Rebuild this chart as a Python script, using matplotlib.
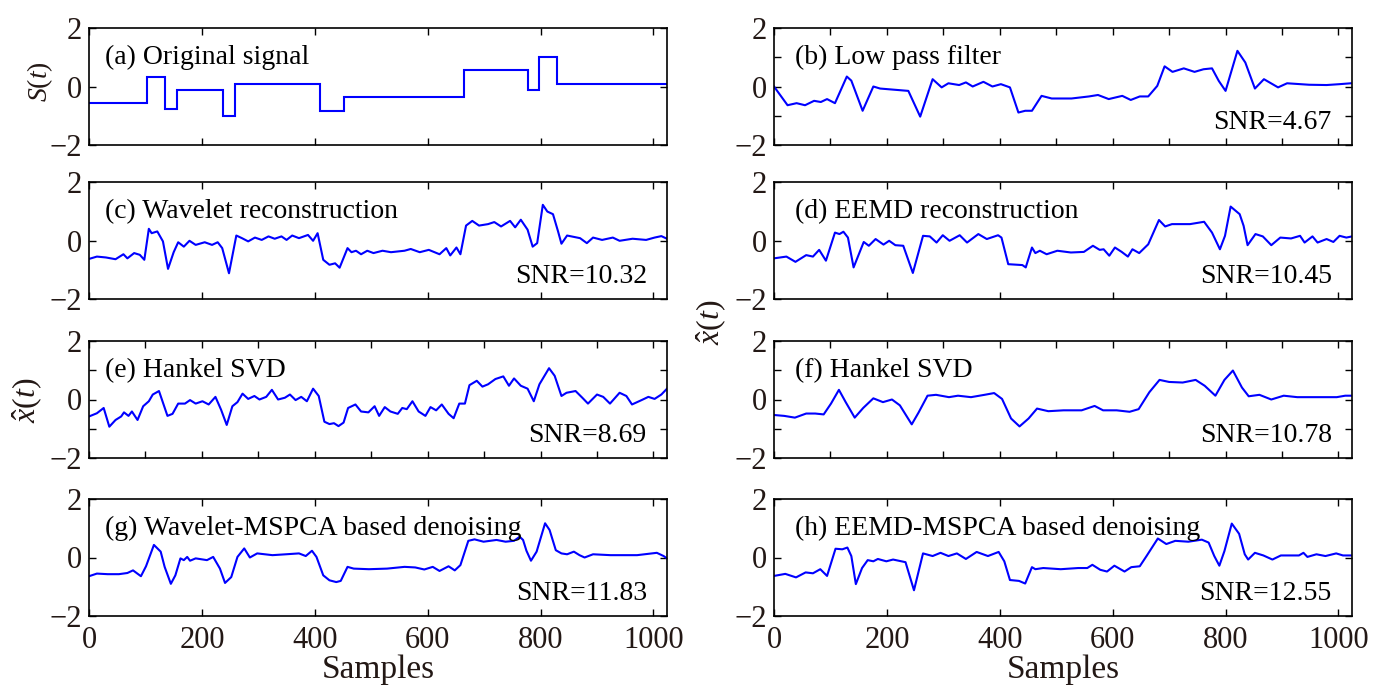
import matplotlib
matplotlib.use("Agg")
import matplotlib.pyplot as plt
from matplotlib.ticker import MultipleLocator

plt.rcParams['font.family'] = ['Liberation Serif', 'DejaVu Serif']
plt.rcParams['mathtext.fontset'] = 'custom'
plt.rcParams['mathtext.rm'] = 'Liberation Serif'
plt.rcParams['mathtext.it'] = 'Liberation Serif:italic'

TXT = '#231815'
BLUE = '#0000ff'

# (a) signal original : marches (bords + niveaux)
orig_edges = [0, 103, 134, 156, 237, 258, 410, 451, 665, 777, 798, 830, 1024]
orig_levels = [-0.57, 0.31, -0.77, -0.12, -1.01, 0.08, -0.83, -0.37, 0.57, -0.12, 1.0, 0.08]

# (b) filtre passe-bas
lp_x = [0, 24, 40, 55, 71, 83, 94, 108, 129, 137, 157, 176, 188, 238, 259, 281, 297, 309, 328, 340,
        352, 371, 387, 402, 418, 433, 445, 457, 474, 492, 527, 558, 574, 593, 617, 632, 648, 663, 679,
        692, 706, 726, 745, 761, 776, 788, 800, 821, 835, 852, 868, 893, 909, 948, 979, 1002, 1022]
lp_y = [0.0, -0.64, -0.57, -0.64, -0.49, -0.53, -0.43, -0.57, 0.34, 0.2, -0.83, 0.0, -0.07, -0.15,
        -1.03, 0.25, -0.03, 0.11, 0.05, 0.14, 0.0, 0.16, 0.0, 0.08, -0.03, -0.89, -0.83, -0.83, -0.32,
        -0.41, -0.41, -0.34, -0.29, -0.43, -0.32, -0.46, -0.34, -0.34, 0.02, 0.69, 0.5, 0.62, 0.5,
        0.59, 0.62, 0.19, -0.15, 1.22, 0.82, -0.07, 0.25, -0.03, 0.11, 0.06, 0.05, 0.08, 0.11]

# (c) reconstruction ondelettes
wav_x = [0, 14, 30, 47, 61, 68, 80, 90, 98, 106, 111, 121, 131, 140, 150, 158, 168, 178, 189, 205,
         218, 228, 236, 248, 261, 271, 282, 294, 306, 318, 329, 341, 350, 360, 372, 388, 397, 405,
         415, 426, 436, 444, 458, 465, 473, 482, 493, 504, 520, 535, 559, 570, 586, 602, 621, 633,
         640, 651, 658, 668, 679, 691, 707, 718, 730, 746, 755, 765, 777, 786, 794, 804, 812, 822,
         831, 837, 847, 870, 882, 893, 909, 928, 940, 963, 987, 1002, 1014, 1024]
wav_y = [-0.63, -0.55, -0.58, -0.64, -0.47, -0.61, -0.43, -0.49, -0.66, 0.4, 0.25, 0.31, -0.03,
         -0.97, -0.4, -0.06, -0.21, -0.01, -0.15, -0.06, -0.15, -0.06, -0.26, -1.12, 0.17, 0.08,
         -0.03, 0.1, 0.02, 0.14, 0.06, 0.14, 0.02, 0.17, 0.08, 0.19, -0.01, 0.25, -0.66, -0.83,
         -0.78, -0.93, -0.26, -0.4, -0.35, -0.47, -0.35, -0.43, -0.35, -0.4, -0.35, -0.29, -0.4,
         -0.32, -0.47, -0.26, -0.51, -0.24, -0.47, 0.51, 0.67, 0.51, 0.56, 0.63, 0.48, 0.67, 0.45,
         0.71, 0.37, -0.21, -0.09, 1.22, 0.99, 0.9, 0.31, -0.11, 0.17, 0.08, -0.09, 0.1, 0.02, 0.1,
         -0.01, 0.06, 0.02, 0.1, 0.15, 0.06]

# (d) reconstruction EEMD
eemd_x = [0, 22, 38, 57, 69, 80, 92, 108, 116, 123, 131, 141, 159, 168, 180, 194, 204, 215, 229,
          246, 264, 276, 288, 299, 311, 329, 342, 362, 377, 397, 403, 415, 440, 446, 457, 463, 471,
          483, 502, 526, 549, 565, 577, 584, 594, 604, 616, 627, 635, 647, 663, 682, 693, 705, 737,
          762, 776, 790, 799, 809, 825, 832, 839, 853, 866, 881, 897, 916, 932, 940, 954, 963, 979,
          991, 1002, 1014, 1024]
eemd_y = [-0.61, -0.55, -0.73, -0.5, -0.55, -0.32, -0.69, 0.27, 0.22, 0.3, 0.1, -0.92, -0.05,
          -0.18, 0.05, -0.14, -0.01, -0.16, -0.18, -1.11, 0.16, 0.14, -0.07, 0.18, -0.01, 0.18,
          -0.07, 0.22, 0.05, 0.18, 0.1, -0.81, -0.84, -0.92, -0.24, -0.43, -0.35, -0.47, -0.35,
          -0.41, -0.39, -0.18, -0.32, -0.3, -0.52, -0.24, -0.39, -0.55, -0.3, -0.43, -0.13, 0.7,
          0.48, 0.56, 0.56, 0.64, 0.27, -0.3, 0.16, 1.16, 0.9, 0.5, -0.16, 0.22, 0.14, -0.16, 0.1,
          0.07, 0.16, -0.07, 0.14, -0.07, 0.05, -0.05, 0.16, 0.1, 0.14]

# (e) Hankel SVD (bruitée)
hk1_x = [0, 14, 26, 36, 47, 57, 62, 70, 76, 86, 96, 106, 113, 124, 139, 148, 158, 170, 179, 189,
         201, 212, 224, 234, 244, 254, 263, 272, 282, 293, 302, 314, 324, 335, 347, 356, 366, 376,
         386, 397, 407, 417, 426, 434, 442, 451, 459, 472, 482, 495, 506, 514, 524, 534, 547, 555,
         563, 573, 584, 596, 605, 615, 625, 637, 646, 656, 666, 674, 687, 697, 707, 720, 734, 744,
         753, 765, 777, 788, 798, 815, 825, 837, 846, 862, 874, 884, 900, 911, 923, 940, 952, 962,
         979, 991, 1002, 1014, 1024]
hk1_y = [-0.58, -0.47, -0.29, -0.93, -0.7, -0.58, -0.44, -0.56, -0.41, -0.7, -0.23, -0.06, 0.17,
         0.29, -0.56, -0.49, -0.14, -0.14, -0.02, -0.14, -0.06, -0.17, 0.09, -0.35, -0.87, -0.23,
         -0.09, 0.2, 0.02, 0.12, 0.0, 0.09, 0.33, 0.0, 0.06, 0.17, -0.02, 0.09, -0.06, 0.37, 0.12,
         -0.76, -0.84, -0.81, -0.91, -0.79, -0.29, -0.17, -0.41, -0.44, -0.23, -0.56, -0.26, -0.41,
         -0.49, -0.29, -0.33, -0.06, -0.41, -0.56, -0.26, -0.37, -0.17, -0.49, -0.64, -0.14, -0.14,
         0.49, 0.64, 0.44, 0.52, 0.7, 0.79, 0.47, 0.72, 0.47, 0.37, -0.06, 0.52, 1.07, 0.81, 0.12,
         0.23, 0.29, 0.06, -0.14, 0.17, 0.09, -0.14, 0.23, 0.12, -0.17, -0.02, 0.09, 0.02, 0.17, 0.37]

# (f) Hankel SVD (lissée)
hk2_x = [0, 18, 37, 57, 73, 88, 101, 115, 127, 143, 158, 176, 193, 209, 223, 244, 256, 272, 287,
         310, 326, 349, 373, 390, 404, 420, 435, 451, 466, 486, 513, 545, 568, 583, 607, 630, 646,
         665, 683, 700, 724, 747, 763, 782, 798, 813, 829, 841, 860, 881, 903, 927, 966, 997, 1012, 1024]
hk2_y = [-0.53, -0.56, -0.62, -0.48, -0.48, -0.51, -0.14, 0.33, -0.09, -0.62, -0.29, 0.04, -0.09,
         0.0, -0.2, -0.85, -0.45, 0.13, 0.16, 0.08, 0.13, 0.08, 0.16, 0.22, 0.02, -0.65, -0.92,
         -0.65, -0.31, -0.4, -0.37, -0.37, -0.22, -0.37, -0.37, -0.42, -0.33, 0.25, 0.67, 0.6, 0.58,
         0.67, 0.47, 0.13, 0.67, 0.99, 0.41, 0.11, 0.16, 0.0, 0.13, 0.08, 0.08, 0.08, 0.13, 0.13]

# (g) Wavelet-MSPCA
wms_x = [0, 14, 33, 53, 68, 78, 92, 101, 115, 127, 134, 145, 153, 162, 168, 174, 179, 189, 209,
         220, 232, 241, 252, 263, 275, 285, 298, 325, 349, 372, 384, 395, 403, 415, 426, 438, 446,
         458, 469, 496, 528, 559, 578, 594, 609, 621, 637, 648, 658, 672, 683, 699, 722, 738, 753,
         763, 769, 775, 783, 793, 808, 816, 827, 837, 847, 859, 869, 878, 893, 924, 971, 1006, 1018, 1024]
wms_y = [-0.64, -0.55, -0.57, -0.57, -0.53, -0.44, -0.64, -0.3, 0.43, 0.2, -0.32, -0.9, -0.61,
         -0.03, -0.09, 0.02, -0.11, -0.03, -0.09, 0.02, -0.38, -0.87, -0.67, 0.02, 0.31, 0.0, 0.14,
         0.08, 0.11, 0.14, 0.05, 0.23, 0.02, -0.61, -0.78, -0.84, -0.8, -0.32, -0.38, -0.4, -0.38,
         -0.32, -0.34, -0.41, -0.32, -0.46, -0.3, -0.44, -0.26, 0.57, 0.62, 0.54, 0.6, 0.54, 0.57,
         0.71, 0.6, 0.23, -0.11, 0.2, 1.17, 0.94, 0.25, 0.14, 0.11, 0.2, 0.08, 0.0, 0.11, 0.08, 0.08,
         0.16, 0.05, -0.03]

# (h) EEMD-MSPCA
ems_x = [0, 20, 39, 56, 69, 82, 94, 109, 121, 130, 137, 145, 156, 166, 176, 184, 199, 211, 233,
         248, 264, 281, 295, 309, 324, 340, 359, 379, 398, 408, 418, 434, 445, 457, 463, 477, 508,
         539, 555, 564, 578, 590, 603, 621, 633, 648, 660, 680, 695, 711, 734, 758, 770, 780, 789,
         798, 811, 824, 834, 840, 852, 867, 883, 898, 930, 938, 945, 961, 977, 996, 1008, 1023]
ems_y = [-0.63, -0.56, -0.68, -0.51, -0.54, -0.4, -0.63, 0.3, 0.28, 0.34, 0.05, -0.91, -0.36,
         -0.09, -0.13, -0.05, -0.13, -0.07, -0.16, -1.12, 0.14, 0.05, 0.16, 0.05, 0.14, -0.05, 0.19,
         0.05, 0.19, -0.13, -0.77, -0.8, -0.89, -0.33, -0.4, -0.36, -0.4, -0.36, -0.36, -0.25,
         -0.42, -0.48, -0.28, -0.48, -0.33, -0.3, 0.05, 0.65, 0.46, 0.57, 0.54, 0.61, 0.51, 0.05,
         -0.28, 0.22, 1.16, 0.81, 0.11, -0.07, 0.16, 0.07, -0.07, 0.07, 0.07, 0.16, 0.02, 0.11,
         0.05, 0.14, 0.07, 0.07]

titles = ['(a) Original signal', '(b) Low pass filter', '(c) Wavelet reconstruction',
          '(d) EEMD reconstruction', '(e) Hankel SVD', '(f) Hankel SVD',
          '(g) Wavelet-MSPCA based denoising', '(h) EEMD-MSPCA based denoising']
snr_labels = [None, 'SNR=4.67', 'SNR=10.32', 'SNR=10.45', 'SNR=8.69', 'SNR=10.78',
              'SNR=11.83', 'SNR=12.55']
series = [None, (lp_x, lp_y), (wav_x, wav_y), (eemd_x, eemd_y), (hk1_x, hk1_y),
          (hk2_x, hk2_y), (wms_x, wms_y), (ems_x, ems_y)]
# panneaux avec graduations fines (pas de 100 / 1)
fine_ticks = [False, True, False, False, True, True, False, False]

W, H = 1381, 693
fig = plt.figure(figsize=(W / 100, H / 100), dpi=100)

col_left = [89, 774]
ax_w = 578
row_top = [28, 182, 341, 499]
ax_h = 117

for i in range(8):
    r, c = divmod(i, 2)
    x0 = col_left[c] / W
    y0 = 1 - (row_top[r] + ax_h) / H
    ax = fig.add_axes([x0, y0, ax_w / W, ax_h / H])

    if i == 0:
        ax.stairs(orig_levels, orig_edges, baseline=None, color=BLUE, lw=1.5)
    else:
        sx, sy = series[i]
        ax.plot(sx, sy, color=BLUE, lw=1.5, solid_joinstyle='round')

    ax.set_xlim(0, 1024)
    ax.set_ylim(-2, 2)
    ax.set_yticks([-2, 0, 2])
    ax.set_yticklabels(['\u22122', '0', '2'])
    ax.xaxis.set_major_locator(MultipleLocator(200))
    if fine_ticks[i]:
        ax.xaxis.set_minor_locator(MultipleLocator(100))
        ax.yaxis.set_minor_locator(MultipleLocator(1))
    ax.tick_params(which='both', direction='in', top=True, right=True, length=5, width=1,
                   labelsize=22, colors='black', labelcolor=TXT)
    ax.tick_params(axis='x', pad=7)
    ax.tick_params(axis='y', pad=5)
    if r < 3:
        ax.tick_params(labelbottom=False)
    else:
        ax.set_xlabel('Samples', fontsize=24, color=TXT, labelpad=0)
    for sp in ax.spines.values():
        sp.set_linewidth(1.2)

    ax.text(0.028 if c == 0 else 0.036, 0.75, titles[i], transform=ax.transAxes,
            fontsize=20, color='black', va='center', ha='left')
    if snr_labels[i]:
        ax.text(0.965, 0.19, snr_labels[i], transform=ax.transAxes,
                fontsize=20, color='black', va='center', ha='right')

# étiquettes d'axe y
fig.text(40 / W, 1 - 82 / H, r'$S(t)$', rotation=90, fontsize=20, color=TXT,
         ha='center', va='center')
fig.text(28 / W, 1 - 400 / H, r'$\hat{x}(t)$', rotation=90, fontsize=23, color=TXT,
         ha='center', va='center')
fig.text(712 / W, 1 - 322 / H, r'$\hat{x}(t)$', rotation=90, fontsize=23, color=TXT,
         ha='center', va='center')

fig.savefig('out.png', dpi=100)
plt.close(fig)
